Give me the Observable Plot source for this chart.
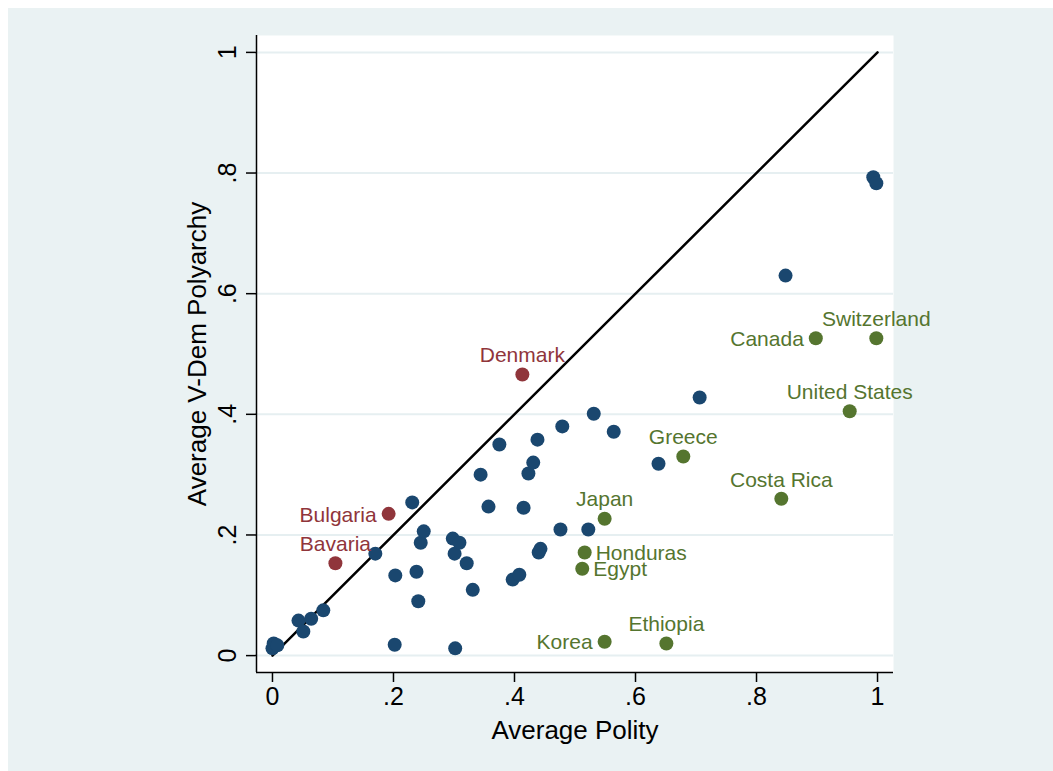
<!DOCTYPE html>
<html>
<head>
<meta charset="utf-8">
<script src="https://cdn.jsdelivr.net/npm/d3@7"></script>
<script src="https://cdn.jsdelivr.net/npm/@observablehq/plot@0.6"></script>
<style>
  html, body { margin: 0; padding: 0; background: #ffffff; }
  #chart svg { display: block; margin: 8px 0 0 8px; background: #EAF2F3; font-family: "Liberation Sans", Arial, Helvetica, sans-serif; }
</style>
</head>
<body>
<div id="chart"></div>
<script>
// Unlabelled countries (blue)
const otherPolity = [0.002, 0.000, 0.008, 0.043, 0.051, 0.064, 0.084, 0.170, 0.202, 0.203, 0.231, 0.238, 0.241, 0.245, 0.250, 0.298, 0.301, 0.309, 0.302, 0.321, 0.331, 0.344, 0.357, 0.375, 0.397, 0.408, 0.415, 0.423, 0.431, 0.438, 0.440, 0.443, 0.476, 0.479, 0.522, 0.531, 0.564, 0.638, 0.706, 0.848, 0.993, 0.998];
const otherVdem   = [0.020, 0.012, 0.017, 0.058, 0.040, 0.061, 0.075, 0.169, 0.018, 0.133, 0.254, 0.139, 0.090, 0.187, 0.206, 0.194, 0.169, 0.187, 0.012, 0.153, 0.109, 0.300, 0.247, 0.350, 0.126, 0.134, 0.245, 0.302, 0.320, 0.358, 0.171, 0.177, 0.209, 0.380, 0.209, 0.401, 0.371, 0.318, 0.428, 0.630, 0.793, 0.783];

// Labelled cases above the diagonal (red)
const redNames  = ["Denmark", "Bulgaria", "Bavaria"];
const redPolity = [0.413, 0.192, 0.104];
const redVdem   = [0.466, 0.235, 0.153];
const redClock  = [12, 9, 12];

// Labelled cases below the diagonal (green)
const greenNames  = ["Canada", "Switzerland", "United States", "Greece", "Costa Rica", "Japan", "Honduras", "Egypt", "Korea", "Ethiopia"];
const greenPolity = [0.898, 0.998, 0.954, 0.679, 0.841, 0.549, 0.516, 0.512, 0.549, 0.651];
const greenVdem   = [0.526, 0.526, 0.405, 0.330, 0.260, 0.227, 0.171, 0.144, 0.023, 0.020];
const greenClock  = [9, 12, 12, 12, 12, 12, 3, 3, 9, 12];

const tickValues = [0, 0.2, 0.4, 0.6, 0.8, 1];
const diagonal = [0, 1];

const NAVY = "#1A476F", MAROON = "#90353B", GREEN = "#55752F";

const others = otherPolity.map((x, i) => ({x, y: otherVdem[i]}));
const reds = redNames.map((n, i) => ({name: n, x: redPolity[i], y: redVdem[i], clock: redClock[i]}));
const greens = greenNames.map((n, i) => ({name: n, x: greenPolity[i], y: greenVdem[i], clock: greenClock[i]}));

const fmt = d => d === 0 ? "0" : d === 1 ? "1" : String(+d.toFixed(1)).replace(/^0\./, ".");

function labelMarks(data, color) {
  const top = data.filter(d => d.clock === 12);
  const left = data.filter(d => d.clock === 9);
  const right = data.filter(d => d.clock === 3);
  const common = {x: "x", y: "y", text: "name", fill: color, fontSize: 21};
  return [
    Plot.text(top, {...common, textAnchor: "middle", lineAnchor: "middle", dy: -19}),
    Plot.text(left, {...common, textAnchor: "end", lineAnchor: "middle", dx: -12, dy: 1}),
    Plot.text(right, {...common, textAnchor: "start", lineAnchor: "middle", dx: 11, dy: 1})
  ];
}

const chart = Plot.plot({
  width: 1045,
  height: 763,
  marginLeft: 248,
  marginTop: 27,
  marginRight: 160,
  marginBottom: 99,
  style: {fontSize: "25px", fontFamily: "Liberation Sans, Arial, Helvetica, sans-serif", color: "black"},
  x: {domain: [-0.0264, 1.0264]},
  y: {domain: [-0.028, 1.028]},
  marks: [
    Plot.frame({fill: "white", stroke: "none"}),
    Plot.gridY(tickValues, {stroke: "#E6EFF1", strokeOpacity: 1, strokeWidth: 2}),
    Plot.ruleX([-0.0264], {stroke: "black", strokeWidth: 1.5}),
    Plot.ruleY([-0.028], {stroke: "black", strokeWidth: 1.5}),
    Plot.axisX({ticks: tickValues, tickFormat: fmt, tickSize: 10, tickPadding: 5, label: null, stroke: "black", strokeWidth: 1.5, fontSize: 25}),
    Plot.axisY({ticks: tickValues, tickFormat: fmt, tickSize: 10, tickRotate: -90, tickPadding: 11, label: null, stroke: "black", strokeWidth: 1.5, fontSize: 25}),
    Plot.line(diagonal, {x: d => d, y: d => d, stroke: "black", strokeWidth: 2.5}),
    Plot.dot(others, {x: "x", y: "y", r: 7, fill: NAVY, stroke: "none"}),
    Plot.dot(reds, {x: "x", y: "y", r: 7, fill: MAROON, stroke: "none"}),
    Plot.dot(greens, {x: "x", y: "y", r: 7, fill: GREEN, stroke: "none"}),
    ...labelMarks(reds, MAROON),
    ...labelMarks(greens, GREEN),
    Plot.text(["Average Polity"], {frameAnchor: "bottom", dy: 58, fontSize: 26, fill: "black", textAnchor: "middle", lineAnchor: "middle"}),
    Plot.text(["Average V-Dem Polyarchy"], {frameAnchor: "left", dx: -59, rotate: -90, fontSize: 26, fill: "black", textAnchor: "middle", lineAnchor: "middle"})
  ]
});
document.getElementById("chart").appendChild(chart);
</script>
</body>
</html>
